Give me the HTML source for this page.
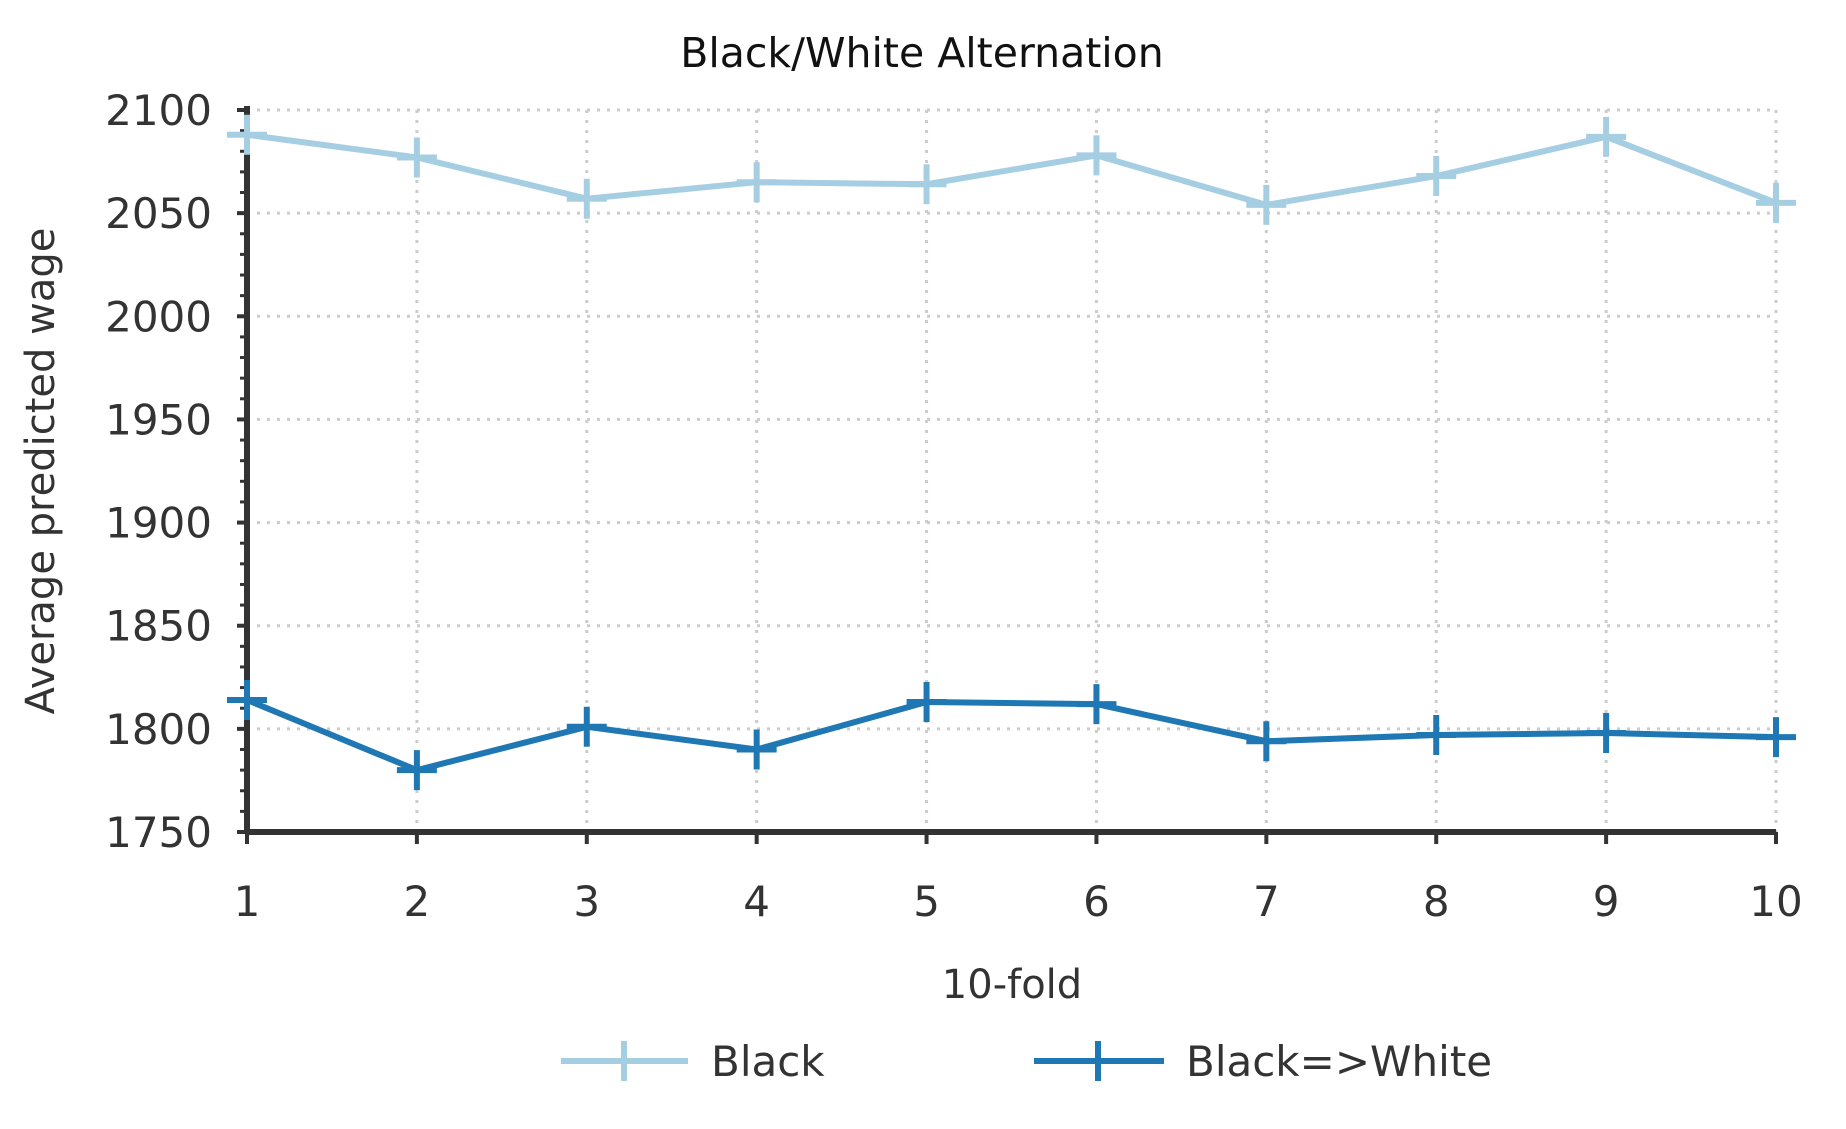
<!DOCTYPE html>
<html><head><meta charset="utf-8"><style>
html,body{margin:0;padding:0;background:#fff;}
svg{display:block;font-family:"DejaVu Sans","Liberation Sans",sans-serif;}
</style></head><body>
<svg id="chart" width="1846" height="1129" viewBox="0 0 1846 1129" xmlns="http://www.w3.org/2000/svg">
<text x="922" y="67" font-size="41" text-anchor="middle" fill="#111">Black/White Alternation</text>
<g id="grid"></g><g id="axes"></g><g id="series"></g>
<text transform="translate(54,471) rotate(-90)" font-size="40" text-anchor="middle" fill="#333">Average predicted wage</text>
<text x="1012" y="998" font-size="40" text-anchor="middle" fill="#333">10-fold</text>
<g>
<g>
<line x1="561" y1="1061" x2="688" y2="1061" stroke="#a6cee3" stroke-width="6"/>
<line x1="624" y1="1041" x2="624" y2="1081" stroke="#a6cee3" stroke-width="6"/>
<text x="711" y="1076" font-size="42" fill="#333">Black</text></g>
<g>
<line x1="1034" y1="1061" x2="1164" y2="1061" stroke="#1f78b4" stroke-width="6"/>
<line x1="1098" y1="1041" x2="1098" y2="1081" stroke="#1f78b4" stroke-width="6"/>
<text x="1186" y="1076" font-size="42" fill="#333">Black=&gt;White</text></g>
</g>
</svg>
<script>
const folds = [1,2,3,4,5,6,7,8,9,10];
const blackValues = [2088,2077,2057,2065,2064,2078,2054,2068,2087,2055];
const whiteValues = [1814,1780,1801,1790,1813,1812,1794,1797,1798,1796];
const yTicks = [1750,1800,1850,1900,1950,2000,2050,2100];
const NS="http://www.w3.org/2000/svg";
const X0=247,X1=1776,Y0=832,Y1=110;
const xs=v=>X0+(v-1)/(10-1)*(X1-X0);
const ys=v=>Y0-(v-1750)/(2100-1750)*(Y0-Y1);
function mk(tag,attrs,parent){const e=document.createElementNS(NS,tag);for(const k in attrs)e.setAttribute(k,attrs[k]);parent.appendChild(e);return e;}
const grid=document.getElementById('grid'),axes=document.getElementById('axes'),series=document.getElementById('series');
yTicks.forEach(t=>{
  if(t>1750){const g=mk('line',{x1:X0,x2:X1,y1:ys(t),y2:ys(t),stroke:'#ccc','stroke-width':3,'stroke-dasharray':'3 7'},grid);
  
  }
  const tk=mk('line',{x1:X0-10,x2:X0,y1:ys(t),y2:ys(t),stroke:'#333','stroke-width':4},axes);
  
  
  const lb=mk('text',{x:X0-35,y:ys(t)+15,'font-size':42,'text-anchor':'end',fill:'#333'},axes);
  lb.textContent=t;
  
  
});
for(let v=1750;v<=2100;v+=10){mk('line',{x1:X0-7,x2:X0,y1:ys(v),y2:ys(v),stroke:'#333','stroke-width':3},axes);}
folds.forEach(f=>{
  if(f>1){const g=mk('line',{x1:xs(f),x2:xs(f),y1:Y1,y2:Y0,stroke:'#ccc','stroke-width':3,'stroke-dasharray':'3 7'},grid);
  
  }
  const tk=mk('line',{x1:xs(f),x2:xs(f),y1:Y0,y2:Y0+12,stroke:'#333','stroke-width':4},axes);
  
  
  const lb=mk('text',{x:xs(f),y:916,'font-size':42,'text-anchor':'middle',fill:'#333'},axes);
  lb.textContent=f;
  
  
});
const ya=mk('line',{x1:X0,x2:X0,y1:Y1-4,y2:Y0+2,stroke:'#333','stroke-width':6},axes);


const xa=mk('line',{x1:X0-2,x2:X1,y1:Y0,y2:Y0,stroke:'#333','stroke-width':6},axes);


function drawSeries(vals,color,name){
  const pl=mk('polyline',{points:vals.map((v,i)=>xs(folds[i])+','+ys(v)).join(' '),fill:'none',stroke:color,'stroke-width':6},series);
  
  
  vals.forEach((v,i)=>{
    const x=xs(folds[i]),y=ys(v);
    const g=mk('g',{},series);
    
    
    mk('line',{x1:x-20,x2:x+20,y1:y,y2:y,stroke:color,'stroke-width':6},g);
    mk('line',{x1:x,x2:x,y1:y-20,y2:y+20,stroke:color,'stroke-width':6},g);
  });
}
drawSeries(blackValues,'#a6cee3','black');
drawSeries(whiteValues,'#1f78b4','black-to-white');
</script>
</body></html>
